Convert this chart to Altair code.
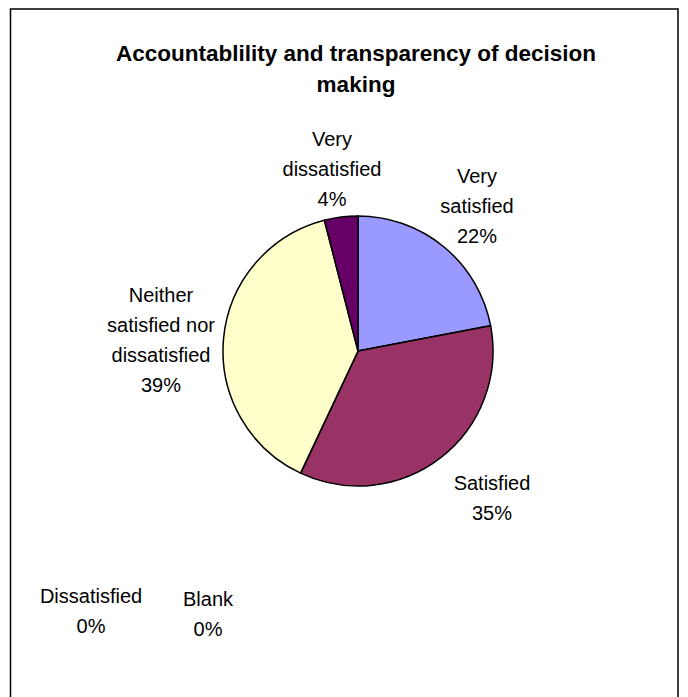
import altair as alt
import pandas as pd

# ---- data ----
title_lines = ["Accountablility and transparency of decision", "making"]
categories = ["Very satisfied", "Satisfied", "Dissatisfied", "Blank",
              "Neither satisfied nor dissatisfied", "Very dissatisfied"]
values = [22, 35, 0, 0, 39, 4]
label_text = ["Very\nsatisfied", "Satisfied", "Dissatisfied", "Blank",
              "Neither\nsatisfied nor\ndissatisfied", "Very\ndissatisfied"]
colors = ["#9999FF", "#993366", "#CCFFFF", "#FF8080", "#FFFFCC", "#660066"]

df = pd.DataFrame({
    "category": categories,
    "value": values,
    "order": list(range(len(categories))),
})
df["text"] = [f"{t}\n{v}%" for t, v in zip(label_text, values)]

# label anchor positions (first line centre, px inside the chart)
label_pos = {
    "Very satisfied": (469, 169),
    "Satisfied": (484, 476),
    "Dissatisfied": (83, 589),
    "Blank": (200, 592),
    "Neither satisfied nor dissatisfied": (153, 288),
    "Very dissatisfied": (324, 132),
}

FONT = "Liberation Sans"

border = alt.Chart(pd.DataFrame({"a": [0]})).mark_rect(
    filled=False, stroke="black", strokeWidth=1.5
).encode(x=alt.value(2.5), x2=alt.value(670), y=alt.value(1), y2=alt.value(720))

title = alt.Chart(pd.DataFrame({"t": ["\n".join(title_lines)]})).mark_text(
    font=FONT, fontSize=22.5, fontWeight="bold", align="center",
    baseline="alphabetic", lineBreak="\n", lineHeight=31, color="black"
).encode(text="t:N", x=alt.value(348), y=alt.value(53))

pie = alt.Chart(df).mark_arc(
    outerRadius=135, stroke="black", strokeWidth=1.5
).encode(
    theta=alt.Theta("value:Q", stack=True),
    order=alt.Order("order:Q"),
    color=alt.Color("category:N", scale=alt.Scale(domain=categories, range=colors), legend=None),
    x=alt.value(350),
    y=alt.value(343),
)

labels = []
for c in categories:
    px, py = label_pos[c]
    labels.append(
        alt.Chart(df).transform_filter(alt.datum.category == c).mark_text(
            font=FONT, fontSize=20, align="center", baseline="middle",
            lineBreak="\n", lineHeight=30, color="black"
        ).encode(text="text:N", x=alt.value(px), y=alt.value(py))
    )

chart = alt.layer(border, pie, title, *labels).properties(
    width=672, height=689, padding=0, autosize="none"
).configure_view(stroke=None)

chart.save("out.html", embed_options={"renderer": "svg", "actions": False})
